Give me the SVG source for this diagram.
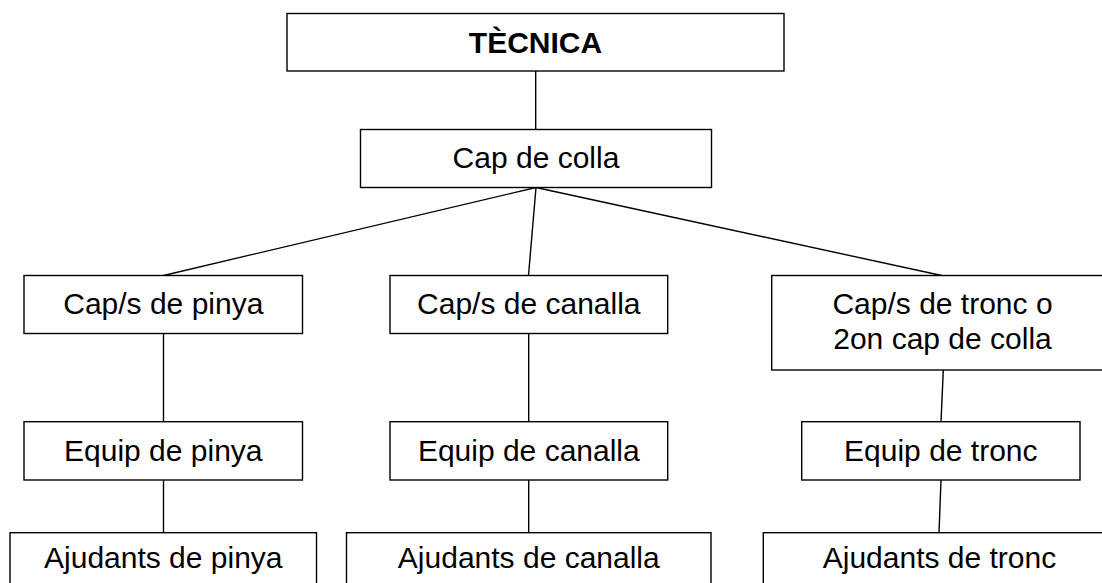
<svg xmlns="http://www.w3.org/2000/svg" width="1102" height="583" viewBox="0 0 1102 583">
<style>
.box{fill:#fff;stroke:#000;stroke-width:1.4}
.ln{stroke:#000;stroke-width:1.4;fill:none}
text{font-family:"Liberation Sans",Arial,sans-serif;font-size:30px;fill:#000;text-anchor:middle}
.b{font-weight:bold}
</style>
<rect width="1102" height="583" fill="#fff"/>
<g id="connectors">
<line class="ln" x1="535.7" y1="71" x2="535.7" y2="129.5"/>
<line class="ln" x1="536" y1="187.5" x2="163.5" y2="275.5"/>
<line class="ln" x1="536" y1="187.5" x2="528.5" y2="275.5"/>
<line class="ln" x1="536" y1="187.5" x2="941.7" y2="275.5"/>
<line class="ln" x1="163.5" y1="333.5" x2="163.5" y2="421.7"/>
<line class="ln" x1="163.5" y1="480" x2="163.5" y2="532.7"/>
<line class="ln" x1="528.7" y1="333.5" x2="528.7" y2="421.7"/>
<line class="ln" x1="528.7" y1="480" x2="528.7" y2="532.7"/>
<line class="ln" x1="943.3" y1="370" x2="941" y2="421.7"/>
<line class="ln" x1="941" y1="480" x2="939" y2="532.7"/>
</g>
<g id="tecnica">
<rect class="box" x="287" y="13.5" width="497" height="57.5"/>
<text class="b" x="535.5" y="53.3">TÈCNICA</text>
</g>
<g id="cap-colla">
<rect class="box" x="360.5" y="129.5" width="351" height="58"/>
<text x="536" y="168">Cap de colla</text>
</g>
<g id="cap-pinya">
<rect class="box" x="24" y="275.5" width="278.5" height="58"/>
<text x="163.3" y="314">Cap/s de pinya</text>
</g>
<g id="cap-canalla">
<rect class="box" x="390" y="275.5" width="277.7" height="58"/>
<text x="528.8" y="314">Cap/s de canalla</text>
</g>
<g id="cap-tronc">
<rect class="box" x="771.7" y="275.5" width="341" height="94.5"/>
<text x="942.5" y="314">Cap/s de tronc o</text>
<text x="942.5" y="349.3">2on cap de colla</text>
</g>
<g id="equip-pinya">
<rect class="box" x="24" y="421.7" width="278.5" height="58.3"/>
<text x="163.3" y="460.7">Equip de pinya</text>
</g>
<g id="equip-canalla">
<rect class="box" x="390" y="421.7" width="277.7" height="58.3"/>
<text x="528.8" y="460.7">Equip de canalla</text>
</g>
<g id="equip-tronc">
<rect class="box" x="801.7" y="421.7" width="278.3" height="58.3"/>
<text x="940.8" y="460.7">Equip de tronc</text>
</g>
<g id="ajudants-pinya">
<rect class="box" x="10" y="532.7" width="306.5" height="70"/>
<text x="163.3" y="568.3">Ajudants de pinya</text>
</g>
<g id="ajudants-canalla">
<rect class="box" x="346.5" y="532.7" width="364.5" height="70"/>
<text x="528.8" y="568.3">Ajudants de canalla</text>
</g>
<g id="ajudants-tronc">
<rect class="box" x="763.3" y="532.7" width="352" height="70"/>
<text x="939.5" y="568.3">Ajudants de tronc</text>
</g>
</svg>
